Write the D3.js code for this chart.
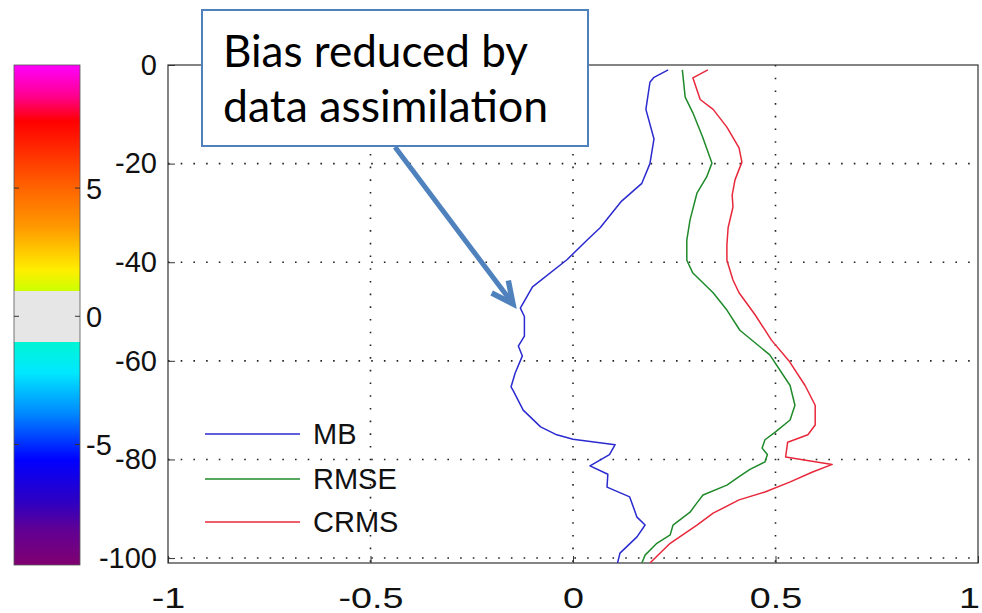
<!DOCTYPE html>
<html>
<head>
<meta charset="utf-8">
<script src="https://cdn.jsdelivr.net/npm/d3@7"></script>
<style>
  html, body { margin: 0; padding: 0; background: #ffffff; }
  svg { display: block; }
</style>
</head>
<body>
<script>
// ---------------- data ----------------
const xTicks = [-1, -0.5, 0, 0.5, 1];
const xTickLabels = ["-1", "-0.5", "0", "0.5", "1"];
const yTicks = [0, -20, -40, -60, -80, -100];
const yTickLabels = ["0", "-20", "-40", "-60", "-80", "-100"];

const seriesNames = ["MB", "RMSE", "CRMS"];

const mbDepth = [-1, -2.5, -3.5, -9, -15, -20, -24, -27.6, -33, -35.5, -39.5, -45, -49.3, -51, -55, -57, -59, -62.5, -65.3, -66, -70, -73.4, -75, -75.9, -77, -79, -81.3, -83, -85.6, -87.6, -91.7, -93.3, -95.7, -99, -101];
const mbValue = [0.235, 0.2, 0.19, 0.18, 0.20, 0.19, 0.17, 0.12, 0.067, 0.035, -0.015, -0.10, -0.13, -0.12, -0.12, -0.135, -0.125, -0.143, -0.153, -0.148, -0.123, -0.08, -0.04, 0.0, 0.104, 0.09, 0.042, 0.086, 0.084, 0.14, 0.158, 0.178, 0.158, 0.116, 0.11];

const rmseDepth = [-1, -6.5, -9.7, -14.6, -19.9, -22.7, -26, -31.4, -35.5, -39.6, -42.2, -46.2, -49.7, -53.8, -58.8, -65, -69, -72, -74.4, -76, -77.7, -79, -80.5, -82, -83.4, -85.2, -87.2, -88.8, -90.7, -93.3, -95.3, -97, -99.4, -101];
const rmseValue = [0.27, 0.277, 0.296, 0.32, 0.343, 0.33, 0.306, 0.289, 0.281, 0.281, 0.296, 0.346, 0.38, 0.412, 0.486, 0.536, 0.548, 0.536, 0.5, 0.474, 0.467, 0.48, 0.474, 0.437, 0.412, 0.38, 0.321, 0.306, 0.289, 0.247, 0.24, 0.207, 0.178, 0.17];

const crmsDepth = [-1, -2.6, -7, -9, -12.6, -16.8, -19.7, -23.3, -26.4, -28.8, -33, -36.5, -39.6, -43.6, -46.2, -50.7, -55.8, -60.2, -65, -69, -73, -75, -76.5, -79.5, -81, -82.6, -84.6, -86.6, -88.2, -90.9, -93.3, -97, -101];
const crmsValue = [0.333, 0.296, 0.314, 0.346, 0.38, 0.41, 0.417, 0.40, 0.393, 0.395, 0.383, 0.38, 0.38, 0.395, 0.41, 0.45, 0.49, 0.535, 0.573, 0.598, 0.598, 0.58, 0.53, 0.525, 0.64, 0.59, 0.535, 0.474, 0.41, 0.346, 0.306, 0.24, 0.19];

// colour bar
const cbTicks = [5, 0, -5];
const cbTickLabels = ["5", "0", "-5"];
const cbStopValues = [9.8, 8.6, 7.6, 5.0, 3.5, 1.8, 1.0, 1.0, -1.0, -1.0, -2.2, -3.8, -5.6, -7.3, -8.3, -9.7];
const cbStopColors = ["#ff00ff", "#ff0090", "#ff0000", "#ff6400", "#ff9800", "#ffee00", "#ccff00", "#e6e6e6", "#e6e6e6", "#00f5d5", "#00e8ff", "#0088ff", "#0000ff", "#3000c0", "#600095", "#800070"];

const annotationLines = ["Bias reduced by", "data assimilation"];

// ---------------- drawing ----------------
const W = 982, H = 613;
const svg = d3.select("body").append("svg").attr("width", W).attr("height", H);

const x = d3.scaleLinear().domain([-1, 1]).range([168, 978]);
const y = d3.scaleLinear().domain([-101, 0]).range([563, 65]);
const axisFont = "'Liberation Sans', Arial, Helvetica, sans-serif";
const fs = 29;

// grid (dotted)
const grid = svg.append("g");
grid.selectAll("line.gx").data(xTicks.filter(v => v > -1 && v < 1)).join("line")
  .attr("x1", d => x(d)).attr("x2", d => x(d))
  .attr("y1", y(0)).attr("y2", y(-101))
  .attr("stroke", "#222").attr("stroke-width", 1.6)
  .attr("stroke-dasharray", "1.6,11.1").attr("stroke-linecap", "butt");
grid.selectAll("line.gy").data(yTicks.filter(v => v < 0)).join("line")
  .attr("x1", x(-1)).attr("x2", x(1))
  .attr("y1", d => y(d)).attr("y2", d => y(d))
  .attr("stroke", "#222").attr("stroke-width", 1.6)
  .attr("stroke-dasharray", "1.6,11.1");

// frame
svg.append("rect")
  .attr("x", x(-1)).attr("y", y(0))
  .attr("width", x(1) - x(-1)).attr("height", y(-101) - y(0))
  .attr("fill", "none").attr("stroke", "#333").attr("stroke-width", 1.2);

// axes
const yAxis = d3.axisLeft(y).tickValues(yTicks).tickFormat((d, i) => yTickLabels[i]).tickSizeInner(-7).tickSizeOuter(0).tickPadding(11);
const gy = svg.append("g").attr("transform", `translate(${x(-1)},0)`).call(yAxis);
gy.select(".domain").remove();
gy.selectAll("line").attr("stroke", "#333");
gy.selectAll("text").attr("font-family", axisFont).attr("font-size", fs).attr("fill", "#111");

const xAxis = d3.axisBottom(x).tickValues(xTicks).tickFormat((d, i) => xTickLabels[i]).tickSizeInner(-7).tickSizeOuter(0).tickPadding(24);
const gx = svg.append("g").attr("transform", `translate(0,${y(-101)})`).call(xAxis);
gx.select(".domain").remove();
gx.selectAll("line").attr("stroke", "#333");
gx.selectAll("text").attr("font-family", axisFont).attr("font-size", fs).attr("fill", "#111")
  .attr("transform", d => d === 1 ? "translate(-9,0) scale(1.3,1)" : "scale(1.3,1)");

// series
const line = d3.line().x(d => x(d[1])).y(d => y(d[0]));
const series = [
  { name: seriesNames[0], depth: mbDepth, value: mbValue, color: "#2a2ad0" },
  { name: seriesNames[1], depth: rmseDepth, value: rmseValue, color: "#1f8a2a" },
  { name: seriesNames[2], depth: crmsDepth, value: crmsValue, color: "#e8283a" }
];
svg.append("clipPath").attr("id", "plotclip").append("rect")
  .attr("x", x(-1)).attr("y", y(0)).attr("width", x(1) - x(-1)).attr("height", y(-101) - y(0));
svg.append("g").attr("clip-path", "url(#plotclip)")
  .selectAll("path").data(series).join("path")
  .attr("d", s => line(s.depth.map((d, i) => [d, s.value[i]])))
  .attr("fill", "none").attr("stroke", s => s.color).attr("stroke-width", 1.5)
  .attr("stroke-linejoin", "round");

// legend
const legY = [434, 479, 522];
const leg = svg.append("g");
series.forEach((s, i) => {
  leg.append("line").attr("x1", 205).attr("x2", 300).attr("y1", legY[i]).attr("y2", legY[i])
    .attr("stroke", s.color).attr("stroke-width", 1.5);
  leg.append("text").attr("x", 313).attr("y", legY[i]).attr("dy", "0.36em")
    .attr("font-family", axisFont).attr("font-size", fs).attr("fill", "#111").text(s.name);
});

// colour bar
const cb = d3.scaleLinear().domain([-9.7, 9.8]).range([565, 65]);
const defs = svg.append("defs");
const grad = defs.append("linearGradient").attr("id", "cbgrad")
  .attr("x1", 0).attr("y1", 0).attr("x2", 0).attr("y2", 1);
cbStopValues.forEach((v, i) => {
  grad.append("stop")
    .attr("offset", ((cb(v) - 65) / 500 * 100).toFixed(2) + "%")
    .attr("stop-color", cbStopColors[i]);
});
svg.append("rect").attr("x", 14).attr("y", 65).attr("width", 66).attr("height", 500)
  .attr("fill", "url(#cbgrad)").attr("stroke", "#555").attr("stroke-width", 0.8);
const cbg = svg.append("g");
cbTicks.forEach((t, i) => {
  cbg.append("line").attr("x1", 14).attr("x2", 19).attr("y1", cb(t)).attr("y2", cb(t)).attr("stroke", "#333");
  cbg.append("line").attr("x1", 75).attr("x2", 80).attr("y1", cb(t)).attr("y2", cb(t)).attr("stroke", "#333");
  cbg.append("text").attr("x", 86).attr("y", cb(t)).attr("dy", "0.36em")
    .attr("font-family", axisFont).attr("font-size", fs).attr("fill", "#111").text(cbTickLabels[i]);
});

// annotation box
const boxColor = "#4f81bd";
svg.append("rect").attr("x", 202).attr("y", 10).attr("width", 386).attr("height", 136)
  .attr("fill", "#fff").attr("stroke", boxColor).attr("stroke-width", 2);
const annFont = "Lato, 'Open Sans', 'Noto Sans', sans-serif";
const annBase = [67, 122];
const annWidth = [305, 325];
annotationLines.forEach((t, i) => {
  svg.append("text").attr("x", 223).attr("y", annBase[i])
    .attr("font-family", annFont).attr("font-size", 45).attr("fill", "#000")
    .attr("textLength", annWidth[i]).attr("lengthAdjust", "spacingAndGlyphs")
    .text(t);
});

// arrow
const a0 = [395, 147], a1 = [513, 304];
const dx = a1[0] - a0[0], dy = a1[1] - a0[1], L = Math.hypot(dx, dy);
const ux = dx / L, uy = dy / L;
const headLen = 24, ang = Math.PI / 7;
function rot(vx, vy, a) { return [vx * Math.cos(a) - vy * Math.sin(a), vx * Math.sin(a) + vy * Math.cos(a)]; }
const w1 = rot(-ux, -uy, ang), w2 = rot(-ux, -uy, -ang);
svg.append("line").attr("x1", a0[0]).attr("y1", a0[1]).attr("x2", a1[0] - ux * 3).attr("y2", a1[1] - uy * 3)
  .attr("stroke", boxColor).attr("stroke-width", 5);
svg.append("path")
  .attr("d", `M${a1[0] + w1[0] * headLen},${a1[1] + w1[1] * headLen} L${a1[0]},${a1[1]} L${a1[0] + w2[0] * headLen},${a1[1] + w2[1] * headLen}`)
  .attr("fill", "none").attr("stroke", boxColor).attr("stroke-width", 5.5)
  .attr("stroke-linejoin", "miter").attr("stroke-linecap", "butt");
</script>
</body>
</html>
